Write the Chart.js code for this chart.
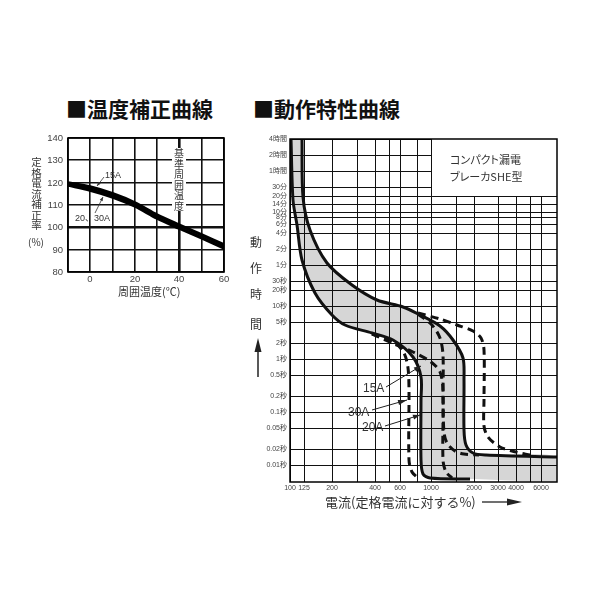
<!DOCTYPE html>
<html><head><meta charset="utf-8">
<script src="https://cdn.jsdelivr.net/npm/chart.js@4.4.1/dist/chart.umd.min.js"></script>
<style>
body{margin:0;background:#fff;width:600px;height:600px;position:relative;overflow:hidden;font-family:"Liberation Sans","Noto Sans CJK JP",sans-serif;color:#222;}
canvas{position:absolute;}
.t{position:absolute;white-space:nowrap;z-index:2;}
.jp{font-family:"Noto Sans CJK JP",sans-serif;}
.title{font-size:21px;line-height:21px;font-weight:bold;color:#111;}
.vcol{text-align:center;}
svg{position:absolute;left:0;top:0;z-index:3;}
</style></head><body>
<canvas id="c1" width="240" height="180" style="left:0;top:125px;"></canvas>
<canvas id="c2" width="340" height="380" style="left:240px;top:125px;"></canvas>

<div class="t jp title" style="left:66px;top:98px;">■温度補正曲線</div>
<div class="t jp title" style="left:253px;top:98px;">■動作特性曲線</div>

<div class="t jp vcol" style="left:30px;top:157px;width:13px;font-size:10.5px;line-height:10.5px;color:#333;">定<br>格<br>電<br>流<br>補<br>正<br>率</div>
<div class="t jp" style="left:28px;top:236px;font-size:10px;line-height:12px;color:#333;">(%)</div>
<div class="t jp" style="left:118px;top:284px;font-size:11px;line-height:14px;color:#333;">周囲温度(℃)</div>
<div class="t jp vcol" style="left:172px;top:148px;width:14px;background:#fff;font-size:10px;line-height:10.5px;color:#333;">基<br>準<br>周<br>囲<br>温<br>度</div>
<div class="t" style="left:105px;top:170px;font-size:9px;line-height:11px;color:#333;">15A</div>
<div class="t" style="left:75px;top:212px;font-size:9px;line-height:11px;color:#333;">20<span class="jp">、</span>30A</div>

<div class="t jp" style="left:450px;top:152px;font-size:11px;line-height:14px;color:#333;font-feature-settings:'palt';">コンパクト漏電</div>
<div class="t jp" style="left:450px;top:169px;font-size:11px;line-height:14px;color:#333;font-feature-settings:'palt';">ブレーカSHE型</div>

<div class="t jp" style="left:250px;top:235px;font-size:12px;line-height:14px;color:#333;">動</div>
<div class="t jp" style="left:250px;top:261px;font-size:12px;line-height:14px;color:#333;">作</div>
<div class="t jp" style="left:250px;top:287px;font-size:12px;line-height:14px;color:#333;">時</div>
<div class="t jp" style="left:250px;top:317px;font-size:12px;line-height:14px;color:#333;">間</div>
<div class="t jp" style="left:325px;top:494px;font-size:13px;line-height:16px;color:#333;">電流(定格電流に対する%)</div>

<div class="t" style="left:363px;top:381px;font-size:12px;line-height:14px;color:#333;">15A</div>
<div class="t" style="left:348px;top:405px;font-size:12px;line-height:14px;color:#333;">30A</div>
<div class="t" style="left:362px;top:420px;font-size:12px;line-height:14px;color:#333;">20A</div>

<svg width="600" height="600">
  <line x1="258" y1="377" x2="258" y2="350" stroke="#222" stroke-width="1.5"/>
  <polygon points="258,338 254.5,352 261.5,352" fill="#222"/>
  <line x1="482" y1="502" x2="510" y2="502" stroke="#222" stroke-width="1.3"/>
  <polygon points="522,502 507,498.5 507,505.5" fill="#222"/>
</svg>

<script>
// ---------- Temperature correction curve data ----------
const tempC      = [-10, 0, 10, 20, 30, 40, 50, 60];
const corr15A    = [120.0, 118.1, 115.0, 110.7, 105.6, 101.1, 96.6, 92.0];
const corr2030A  = [118.8, 116.9, 113.8, 109.5, 104.4, 99.9, 95.4, 90.8];
const tempGridTicks  = [-10, 0, 10, 20, 30, 40, 50, 60];
const tempLabelTicks = [0, 20, 40, 60];
const corrTicks      = [80, 90, 100, 110, 120, 130, 140];
const baseTemp = 40, baseCorr = 100;
// leader lines [fromTemp, fromCorr, toTemp, toCorr]
const tempLeader15A   = [6.3, 122.6, 2.9, 118.4];
const tempLeader2030A = [2.2, 106.3, 5.8, 113.4];

// ---------- Operating characteristic data ----------
const timeTickValues = [14400, 7200, 3600, 1800, 1200, 840, 600, 480, 360, 240, 120, 60, 30, 20, 10, 5, 2, 1, 0.5, 0.2, 0.1, 0.05, 0.02, 0.01];
const timeTickLabels = ['4時間','2時間','1時間','30分','20分','14分','10分','8分','6分','4分','2分','1分','30秒','20秒','10秒','5秒','2秒','1秒','0.5秒','0.2秒','0.1秒','0.05秒','0.02秒','0.01秒'];
const currentGridValues  = [100, 125, 200, 300, 400, 500, 600, 800, 1000, 1500, 2000, 3000, 4000, 5000, 6000];
const currentLabelValues = [100, 125, 200, 400, 600, 1000, 2000, 3000, 4000, 6000];

// upper envelope (solid)
const upperCurrent = [121, 123.6, 138.6, 182, 273, 411, 634, 832, 1152, 1431, 1685, 1713, 1713, 1761, 1973, 2467, 7800];
const upperTime    = [14400, 1165, 277, 65.8, 25.3, 13.2, 9.7, 6.85, 4.12, 2.31, 1.05, 0.404, 0.0459, 0.0239, 0.0166, 0.0150, 0.0143];
// lower envelope (solid)
const lowerCurrent = [101.6, 105, 111.5, 121.6, 150.3, 197.3, 245, 378.6, 536, 742, 850, 852, 852, 874, 979, 1900];
const lowerTime    = [14400, 1022, 344, 75, 17.8, 6.85, 4.43, 3.09, 2.31, 1.10, 0.46, 0.169, 0.0124, 0.00676, 0.00568, 0.0053];
// inner dashed curves
const dashA_Current = [380, 554, 641, 684, 701, 701, 730, 805];
const dashA_Time    = [2.99, 2.02, 1.31, 0.682, 0.262, 0.0124, 0.00737, 0.00568];
const dashB_Current = [380, 527, 742, 995, 1152, 1210, 1220, 1271, 1401];
const dashB_Time    = [2.99, 2.02, 1.37, 0.885, 0.573, 0.262, 0.0124, 0.00737, 0.00568];
const dashC_Current = [805, 1012, 1152, 1210, 1220, 1230, 1291, 1471, 1700, 2200];
const dashC_Time    = [7.15, 4.43, 2.52, 1.20, 0.169, 0.042, 0.026, 0.0184, 0.0160, 0.0152];
const dashD_Current = [805, 1152, 1520, 1973, 2247, 2360, 2372, 2372, 2520, 3064, 4022, 4994];
const dashD_Time    = [7.47, 5.75, 4.43, 3.31, 2.52, 1.49, 0.169, 0.0546, 0.0338, 0.0219, 0.0171, 0.0155];
// legend box corner (current %, time s)
const legendBoxCurrent = 1000, legendBoxTime = 1200;
// leader lines [fromCurrent, fromTime, toCurrent, toTime]
const leader15A = [478, 0.298, 845, 0.744];
const leader30A = [381, 0.1096, 673, 0.169];
const leader20A = [470, 0.0546, 832, 0.0881];

const CUR_MIN = 100, CUR_MAX = 7800, TIME_MIN = 0.00472, TIME_MAX = 14400;

Chart.defaults.font.family = "'Liberation Sans','Noto Sans CJK JP',sans-serif";
Chart.defaults.color = '#444';

function pts(xs, ys){ return xs.map((x,i)=>({x:x, y:ys[i]})); }
function arrowLine(ctx, x1, y1, x2, y2, len, half){
  ctx.beginPath(); ctx.moveTo(x1,y1); ctx.lineTo(x2,y2); ctx.stroke();
  const a = Math.atan2(y2-y1, x2-x1);
  const bx = x2 - len*Math.cos(a), by = y2 - len*Math.sin(a);
  ctx.beginPath(); ctx.moveTo(x2,y2);
  ctx.lineTo(bx + half*Math.sin(a), by - half*Math.cos(a));
  ctx.lineTo(bx - half*Math.sin(a), by + half*Math.cos(a));
  ctx.closePath(); ctx.fill();
}
function leader(ctx, chart, L, len, half){
  const x = chart.scales.x, y = chart.scales.y;
  arrowLine(ctx, x.getPixelForValue(L[0]), y.getPixelForValue(L[1]), x.getPixelForValue(L[2]), y.getPixelForValue(L[3]), len, half);
}

const leftAnno = {
  id:'leftAnno',
  afterDatasetsDraw(chart){
    const {ctx, chartArea:a} = chart;
    ctx.save();
    ctx.strokeStyle = '#000'; ctx.lineWidth = 1.6;
    ctx.strokeRect(a.left, a.top, a.right-a.left, a.bottom-a.top);
    ctx.strokeStyle = '#333'; ctx.fillStyle = '#333'; ctx.lineWidth = 0.8;
    leader(ctx, chart, tempLeader15A, 4, 1.6);
    leader(ctx, chart, tempLeader2030A, 4, 1.6);
    ctx.restore();
  }
};

new Chart(document.getElementById('c1'), {
  type:'scatter',
  data:{datasets:[
    {label:'15A', data:pts(tempC, corr15A), showLine:true, borderColor:'#000', borderWidth:3.5, pointRadius:0, tension:0.3},
    {label:'20、30A', data:pts(tempC, corr2030A), showLine:true, borderColor:'#000', borderWidth:3.5, pointRadius:0, tension:0.3}
  ]},
  options:{
    responsive:false, animation:false, devicePixelRatio:1,
    layout:{padding:{top:13, right:16, left:0, bottom:0}},
    plugins:{legend:{display:false}, tooltip:{enabled:false}},
    scales:{
      x:{type:'linear', min:-10, max:60, alignToPixels:true,
        afterFit:s=>{s.height=33;},
        afterBuildTicks:s=>{s.ticks = tempGridTicks.map(v=>({value:v}));},
        ticks:{autoSkip:false, maxRotation:0, padding:2, font:{size:9.5}, color:'#444',
          callback:v=> tempLabelTicks.includes(v) ? String(v) : ''},
        grid:{color:'#111', drawTicks:false, lineWidth:c=> (c.tick && c.tick.value===baseTemp) ? 2.6 : 1.6},
        border:{display:false}},
      y:{type:'linear', min:80, max:140, alignToPixels:true,
        afterFit:s=>{s.width=68;},
        afterBuildTicks:s=>{s.ticks = corrTicks.map(v=>({value:v}));},
        ticks:{autoSkip:false, padding:5, font:{size:9.5}, color:'#444', callback:v=>String(v)},
        grid:{color:'#111', drawTicks:false, lineWidth:c=> (c.tick && c.tick.value===baseCorr) ? 2.6 : 1.6},
        border:{display:false}}
    }
  },
  plugins:[leftAnno]
});

const rightAnno = {
  id:'rightAnno',
  beforeDatasetsDraw(chart){
    const {ctx, chartArea:a, scales:{x,y}} = chart;
    const bx = Math.round(x.getPixelForValue(legendBoxCurrent)) + 0.5;
    const by = Math.round(y.getPixelForValue(legendBoxTime)) + 0.5;
    ctx.save();
    ctx.fillStyle = '#fff';
    ctx.fillRect(bx, a.top, a.right-bx, by-a.top);
    ctx.strokeStyle = '#111'; ctx.lineWidth = 1;
    ctx.beginPath(); ctx.moveTo(bx, a.top); ctx.lineTo(bx, by); ctx.lineTo(a.right, by); ctx.stroke();
    ctx.restore();
  },
  afterDatasetsDraw(chart){
    const {ctx, chartArea:a} = chart;
    ctx.save();
    ctx.strokeStyle = '#000'; ctx.lineWidth = 1.5;
    ctx.strokeRect(a.left, a.top, a.right-a.left, a.bottom-a.top);
    ctx.strokeStyle = '#222'; ctx.fillStyle = '#222'; ctx.lineWidth = 1;
    leader(ctx, chart, leader15A, 7, 2.5);
    leader(ctx, chart, leader30A, 9, 2.5);
    leader(ctx, chart, leader20A, 7, 2.5);
    ctx.restore();
  }
};

const bandPoints = pts(upperCurrent, upperTime)
  .concat([{x:CUR_MAX, y:TIME_MIN}])
  .concat(pts(lowerCurrent, lowerTime).reverse());

const lineBase = {showLine:true, borderColor:'#111', borderWidth:3, pointRadius:0, tension:0.3, fill:false};
const dashStyle = [8, 5];

new Chart(document.getElementById('c2'), {
  type:'scatter',
  data:{datasets:[
    Object.assign({label:'upper'}, lineBase, {data:pts(upperCurrent, upperTime)}),
    Object.assign({label:'lower'}, lineBase, {data:pts(lowerCurrent, lowerTime)}),
    Object.assign({label:'dashA'}, lineBase, {data:pts(dashA_Current, dashA_Time), borderDash:dashStyle}),
    Object.assign({label:'dashB'}, lineBase, {data:pts(dashB_Current, dashB_Time), borderDash:dashStyle}),
    Object.assign({label:'dashC'}, lineBase, {data:pts(dashC_Current, dashC_Time), borderDash:dashStyle}),
    Object.assign({label:'dashD'}, lineBase, {data:pts(dashD_Current, dashD_Time), borderDash:dashStyle}),
    {label:'band', data:bandPoints, showLine:true, fill:'shape', backgroundColor:'rgba(0,0,0,0.16)',
      borderColor:'rgba(0,0,0,0)', borderWidth:1, pointRadius:0, tension:0.3}
  ]},
  options:{
    responsive:false, animation:false, devicePixelRatio:1,
    layout:{padding:{top:14, right:23, left:0, bottom:0}},
    plugins:{legend:{display:false}, tooltip:{enabled:false}},
    scales:{
      x:{type:'logarithmic', min:CUR_MIN, max:CUR_MAX, alignToPixels:true,
        afterFit:s=>{s.height=23;},
        afterBuildTicks:s=>{s.ticks = currentGridValues.map(v=>({value:v}));},
        ticks:{autoSkip:false, maxRotation:0, minRotation:0, padding:2, font:{size:7}, color:'#444',
          callback:v=> currentLabelValues.includes(v) ? String(v) : ''},
        grid:{color:'#111', lineWidth:1, drawTicks:false},
        border:{display:false}},
      y:{type:'logarithmic', min:TIME_MIN, max:TIME_MAX, alignToPixels:true,
        afterFit:s=>{s.width=50;},
        afterBuildTicks:s=>{s.ticks = timeTickValues.map(v=>({value:v}));},
        ticks:{autoSkip:false, padding:3, font:{size:7}, color:'#444',
          callback:v=>{ const i = timeTickValues.indexOf(v); return i>=0 ? timeTickLabels[i] : ''; }},
        grid:{color:'#111', lineWidth:1, drawTicks:false},
        border:{display:false}}
    }
  },
  plugins:[rightAnno]
});
</script>
</body></html>
